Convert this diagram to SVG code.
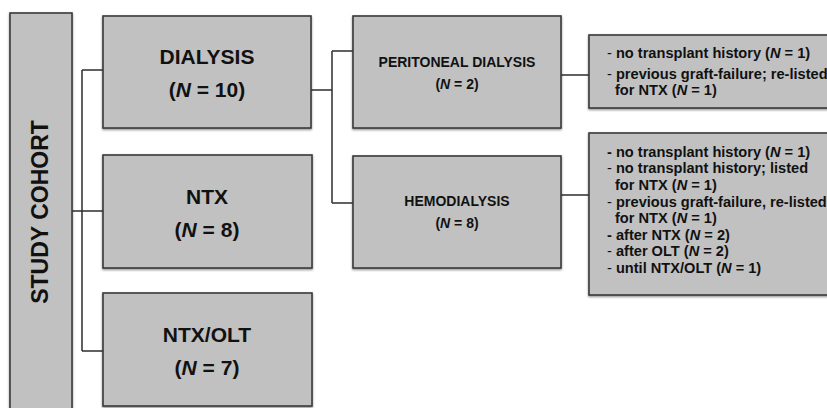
<svg xmlns="http://www.w3.org/2000/svg" width="827" height="408" viewBox="0 0 827 408">
<defs>
<filter id="sh" x="-5%" y="-5%" width="110%" height="115%">
<feDropShadow dx="0" dy="1.2" stdDeviation="0.8" flood-color="#000" flood-opacity="0.45"/>
</filter>
</defs>
<style>
.box{fill:#c1c1c1;stroke:#3a3a3a;stroke-width:1.6;filter:url(#sh)}
.con{fill:none;stroke:#2e2e2e;stroke-width:1.5}
text{font-family:"Liberation Sans",Arial,sans-serif;font-weight:bold;fill:#111}
.big{font-size:21px;text-anchor:middle}
.mid{font-size:14px;text-anchor:middle}
.sm{font-size:14.6px}
.d{font-weight:normal}
.i{font-style:italic}
</style>
<rect width="827" height="408" fill="#fff"/>
<g id="connectors">
<path class="con" d="M72,211 H82 M82,70 V351 M82,70 H103 M82,211 H103 M82,351 H103"/>
<path class="con" d="M311,90 H332 M332,51 V203 M332,51 H353 M332,203 H353"/>
<path class="con" d="M561,75 H589 M561,195 H589"/>
</g>
<g id="study-cohort">
<rect class="box" x="10" y="13" width="62" height="400"/>
<text class="big" transform="translate(48,212) rotate(-90)" style="font-size:23px">STUDY COHORT</text>
</g>
<g id="dialysis">
<rect class="box" x="103" y="16" width="208" height="112"/>
<text class="big" x="207" y="64">DIALYSIS</text>
<text class="big" x="207" y="97">(<tspan class="i">N</tspan> = 10)</text>
</g>
<g id="ntx">
<rect class="box" x="103" y="155" width="209" height="113"/>
<text class="big" x="207" y="204">NTX</text>
<text class="big" x="207" y="237">(<tspan class="i">N</tspan> = 8)</text>
</g>
<g id="ntx-olt">
<rect class="box" x="103" y="293" width="209" height="113"/>
<text class="big" x="207" y="342">NTX/OLT</text>
<text class="big" x="207" y="375">(<tspan class="i">N</tspan> = 7)</text>
</g>
<g id="peritoneal">
<rect class="box" x="353" y="16" width="208" height="112"/>
<text class="mid" x="457" y="67">PERITONEAL DIALYSIS</text>
<text class="mid" x="457" y="89">(<tspan class="i">N</tspan> = 2)</text>
</g>
<g id="hemodialysis">
<rect class="box" x="353" y="156" width="208" height="112"/>
<text class="mid" x="457" y="206">HEMODIALYSIS</text>
<text class="mid" x="457" y="228">(<tspan class="i">N</tspan> = 8)</text>
</g>
<g id="peritoneal-details">
<rect class="box" x="589" y="35" width="245" height="73"/>
<text class="sm" x="607" y="58"><tspan class="d">-</tspan> no transplant history (<tspan class="i">N</tspan> = 1)</text>
<text class="sm" x="607" y="79"><tspan class="d">-</tspan> previous graft-failure; re-listed</text>
<text class="sm" x="615" y="95">for NTX (<tspan class="i">N</tspan> = 1)</text>
</g>
<g id="hemodialysis-details">
<rect class="box" x="589" y="133" width="245" height="162"/>
<text class="sm" x="607" y="157">- no transplant history (<tspan class="i">N</tspan> = 1)</text>
<text class="sm" x="607" y="173"><tspan class="d">-</tspan> no transplant history; listed</text>
<text class="sm" x="615" y="190">for NTX (<tspan class="i">N</tspan> = 1)</text>
<text class="sm" x="607" y="207"><tspan class="d">-</tspan> previous graft-failure, re-listed</text>
<text class="sm" x="615" y="223">for NTX (<tspan class="i">N</tspan> = 1)</text>
<text class="sm" x="607" y="240">- after NTX (<tspan class="i">N</tspan> = 2)</text>
<text class="sm" x="607" y="256"><tspan class="d">-</tspan> after OLT (<tspan class="i">N</tspan> = 2)</text>
<text class="sm" x="607" y="273"><tspan class="d">-</tspan> until NTX/OLT (<tspan class="i">N</tspan> = 1)</text>
</g>
</svg>
